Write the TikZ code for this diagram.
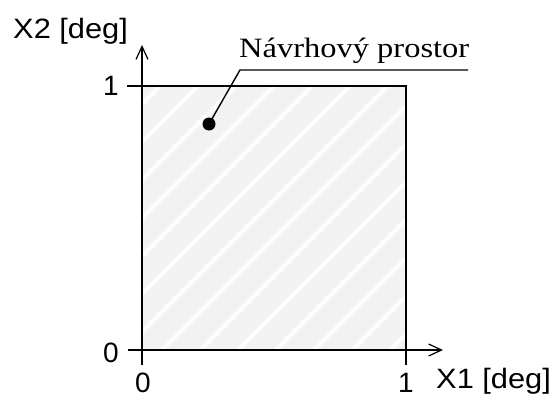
\documentclass[tikz,border=0pt]{standalone}
\usepackage{fontspec}
\setmainfont{Liberation Serif}
\setsansfont{Liberation Sans}
\usetikzlibrary{arrows.meta}
\definecolor{areagray}{HTML}{F2F2F2}
\definecolor{stripe}{HTML}{FCFCFC}
\tikzset{
  axis/.style={line width=1.4pt,-{Straight Barb[length=13pt,width=12pt,line width=1.2pt]}},
  tick/.style={line width=1.4pt},
  border/.style={line width=2.6pt,line join=miter},
  axlabel/.style={font=\sffamily\fontsize{28}{28}\selectfont,inner sep=0pt,xscale=1.1},
  ticklabel/.style={font=\sffamily\fontsize{28}{28}\selectfont,inner sep=0pt,anchor=base},
  callout/.style={font=\rmfamily\fontsize{28}{28}\selectfont,inner sep=0pt,xscale=1.16},
  leader/.style={line width=1.4pt}
}
\begin{document}
\begin{tikzpicture}[x=1pt,y=-1pt]
\useasboundingbox (0,0) rectangle (557,399);
% area
\coordinate (ll) at (142,350);
\coordinate (ur) at (406,86);
\coordinate (ul) at (142,86);
\coordinate (lr) at (406,350);
\fill[areagray] (ll) rectangle (ur);
\begin{scope}
  \clip (ll) rectangle (ur);
  \foreach \k in {0,...,16} {
    \draw[stripe,line width=4.5pt] (-190+\k*38,360) -- ++(320,-320);
  }
\end{scope}
% axes
\coordinate (xs) at (128,350);
\coordinate (xe) at (443,350);
\coordinate (ys) at (142,365);
\coordinate (ye) at (142,45);
\draw[axis] (xs) -- (xe);
\draw[axis] (ys) -- (ye);
\coordinate (t1a) at (127,86);
\draw[tick] (t1a) -- (ul);
\coordinate (t1b) at (406,365);
\draw[tick] (lr) -- (t1b);
% border
\draw[border] (ll) rectangle (ur);
% labels
\node[axlabel,anchor=base west] (ylab) at (13,38) {X2 [deg]};
\node[axlabel,anchor=base west] (xlab) at (436,388) {X1 [deg]};
\node[ticklabel] (y1) at (111,95) {1};
\node[ticklabel] (y0) at (111,362) {0};
\node[ticklabel] (x0) at (143,392) {0};
\node[ticklabel] (x1) at (406,392) {1};
% callout
\node[callout,anchor=base west] (cl) at (239,57) {Návrhový prostor};
\coordinate (u1) at (240,70);
\coordinate (u2) at (468,70);
\node[circle,fill=black,minimum size=13pt,inner sep=0pt] (dot) at (209,124) {};
\draw[leader] (u2) -- (u1) -- (dot.center);
\end{tikzpicture}
\end{document}
